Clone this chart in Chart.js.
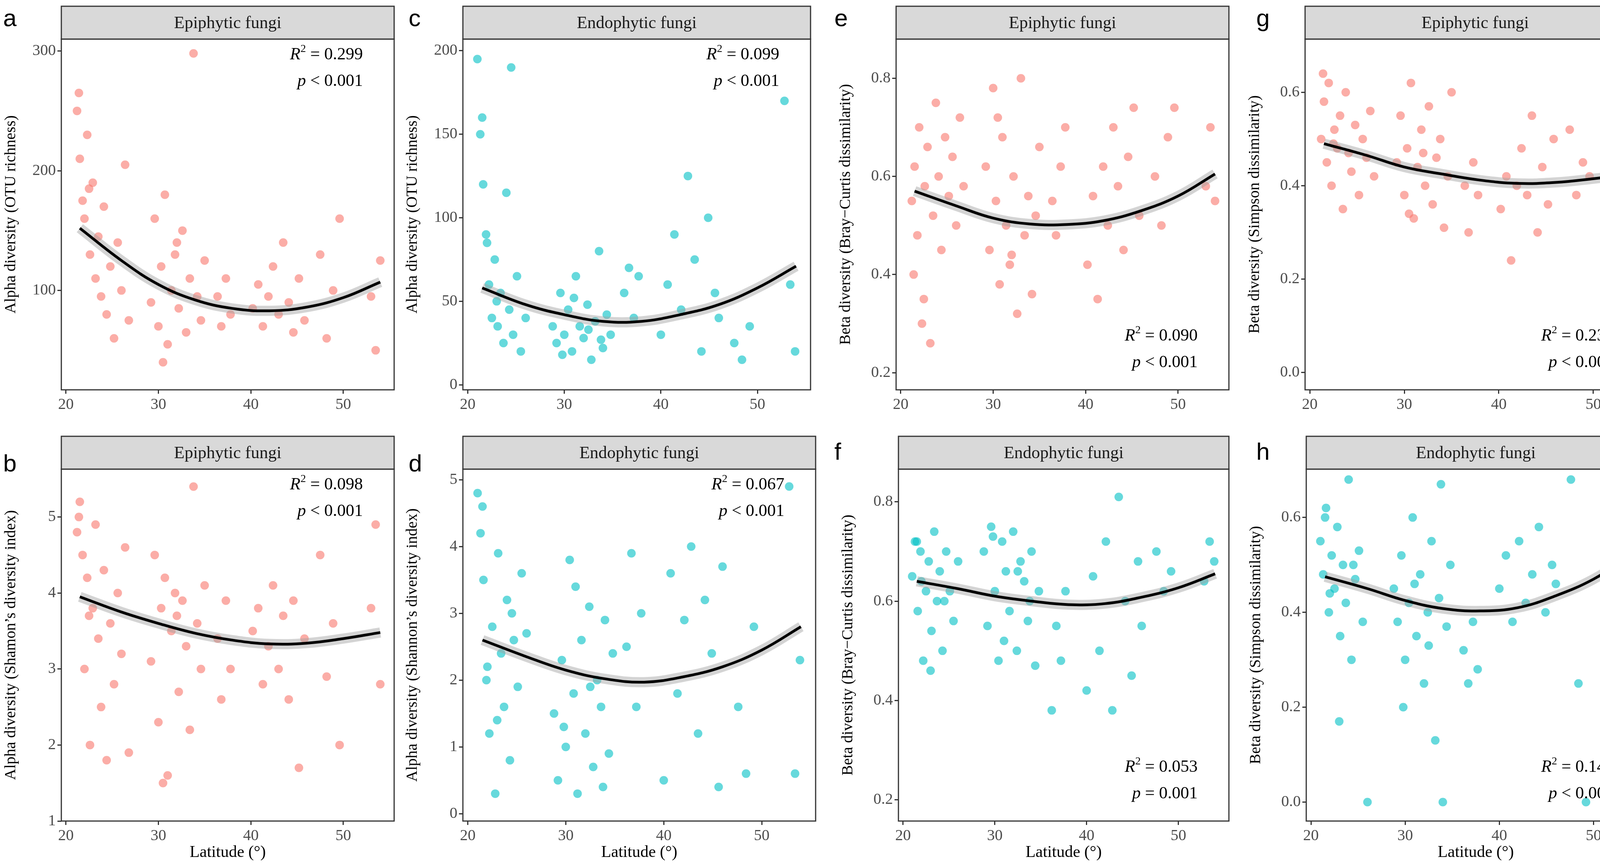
<!DOCTYPE html>
<html><head><meta charset="utf-8">
<script src="https://cdn.jsdelivr.net/npm/chart.js@4/dist/chart.umd.min.js"></script>
<style>
html,body{margin:0;padding:0;background:#fff;width:4252px;height:2212px;overflow:hidden;position:relative}
canvas{position:absolute;display:block}
.lt{position:absolute;font-family:"Liberation Sans",Arial,sans-serif;font-size:62px;color:#000}
</style></head><body>
<div class="lt" style="left:8px;top:10px">a</div>
<div class="lt" style="left:8px;top:1150px">b</div>
<div class="lt" style="left:1046px;top:10px">c</div>
<div class="lt" style="left:1046px;top:1150px">d</div>
<div class="lt" style="left:2136px;top:10px">e</div>
<div class="lt" style="left:2136px;top:1120px">f</div>
<div class="lt" style="left:3216px;top:10px">g</div>
<div class="lt" style="left:3216px;top:1120px">h</div>
<script>
// Epiphytic sample latitudes
const latEpi = [21.2,21.5,21.8,22.0,22.3,22.6,22.9,23.2,23.5,23.8,24.1,24.4,24.8,25.2,25.6,26.0,26.4,26.8,21.4,22.5,
29.2,29.6,30.0,30.3,30.7,31.0,31.4,31.8,32.2,32.6,33.0,33.4,33.8,34.2,34.6,35.0,30.5,32.0,
36.4,36.8,37.3,37.8,
40.2,40.8,41.3,41.9,42.4,43.0,43.5,44.1,44.6,45.2,45.8,
47.5,48.2,48.9,49.6,
53.0,53.5,54.0];
const valA = [250,210,175,160,230,130,190,110,145,95,170,80,120,60,140,100,205,75,265,185,
90,160,70,120,180,55,100,130,85,150,65,110,298,95,75,125,40,140,
95,70,110,80,
85,105,70,95,120,80,140,90,65,110,75,
130,60,100,160,
95,50,125];
const valB = [4.8,5.2,4.5,3.0,4.2,2.0,3.8,4.9,3.4,2.5,4.3,1.8,3.6,2.8,4.0,3.2,4.6,1.9,5.0,3.7,
3.1,4.5,2.3,3.8,4.2,1.6,3.5,4.0,2.7,3.9,3.3,2.2,5.4,3.6,3.0,4.1,1.5,3.7,
3.4,2.6,3.9,3.0,
3.5,3.8,2.8,3.3,4.1,3.0,3.7,2.6,3.9,1.7,3.4,
4.5,2.9,3.6,2.0,
3.8,4.9,2.8];
const valE = [0.55,0.62,0.48,0.70,0.30,0.58,0.66,0.26,0.52,0.75,0.60,0.45,0.68,0.56,0.64,0.50,0.72,0.58,0.40,0.35,
0.62,0.45,0.78,0.55,0.38,0.68,0.50,0.42,0.60,0.32,0.80,0.48,0.56,0.36,0.52,0.66,0.72,0.44,
0.55,0.48,0.62,0.70,
0.42,0.56,0.35,0.62,0.50,0.70,0.58,0.45,0.64,0.74,0.52,
0.60,0.50,0.68,0.74,
0.58,0.70,0.55];
const valG = [0.50,0.58,0.45,0.62,0.40,0.52,0.48,0.55,0.35,0.60,0.47,0.43,0.53,0.38,0.50,0.46,0.56,0.42,0.64,0.49,
0.45,0.55,0.38,0.48,0.62,0.33,0.44,0.52,0.40,0.57,0.36,0.46,0.50,0.31,0.42,0.60,0.34,0.47,
0.40,0.30,0.45,0.38,
0.35,0.42,0.24,0.40,0.48,0.38,0.55,0.30,0.44,0.36,0.50,
0.52,0.38,0.45,0.42,
0.61,0.35,0.28];
// Endophytic sample latitudes
const latEndo = [21.0,21.3,21.6,21.9,22.2,22.5,22.8,23.1,23.4,23.7,24.0,24.3,24.7,25.1,25.5,21.5,22.0,23.0,24.5,26.0,
28.8,29.2,29.6,30.0,30.4,30.8,31.2,31.6,32.0,32.4,32.8,33.2,33.6,34.0,34.4,34.8,29.8,31.0,32.5,33.8,
36.2,36.7,37.2,37.7,
40.0,40.7,41.4,42.1,42.8,43.5,44.2,44.9,45.6,46.0,
47.6,48.4,49.2,
52.8,53.4,53.9];
const valC = [195,150,120,90,60,40,75,35,55,25,115,45,30,65,20,160,85,50,190,40,
35,25,55,30,45,20,65,35,28,48,15,38,80,22,42,30,18,52,33,27,
55,70,40,65,
30,60,90,45,125,75,20,100,55,40,
25,15,35,
170,60,20];
const valD = [4.8,4.2,3.5,2.0,1.2,2.8,0.3,3.9,2.4,1.6,3.2,0.8,2.6,1.9,3.6,4.6,2.2,1.4,3.0,2.7,
1.5,0.5,2.3,1.0,3.8,1.8,0.3,2.6,1.2,3.1,0.7,2.0,1.6,2.9,0.9,2.4,1.3,3.4,1.9,0.4,
2.5,3.9,1.6,3.0,
0.5,3.6,1.8,2.9,4.0,1.2,3.2,2.4,0.4,3.7,
1.6,0.6,2.8,
4.9,0.6,2.3];
const valF = [0.65,0.72,0.58,0.70,0.48,0.62,0.68,0.54,0.74,0.60,0.66,0.50,0.70,0.62,0.56,0.72,0.64,0.46,0.60,0.68,
0.70,0.55,0.75,0.62,0.48,0.72,0.66,0.58,0.74,0.50,0.68,0.64,0.56,0.70,0.47,0.62,0.73,0.52,0.66,0.60,
0.38,0.55,0.48,0.62,
0.42,0.65,0.50,0.72,0.38,0.81,0.60,0.45,0.68,0.55,
0.70,0.62,0.66,
0.64,0.72,0.68];
const valH = [0.55,0.48,0.62,0.40,0.52,0.45,0.58,0.35,0.50,0.42,0.68,0.30,0.47,0.53,0.38,0.60,0.44,0.17,0.50,0.00,
0.45,0.38,0.52,0.30,0.42,0.60,0.35,0.48,0.25,0.40,0.55,0.13,0.43,0.00,0.37,0.50,0.20,0.46,0.33,0.67,
0.32,0.25,0.38,0.28,
0.45,0.52,0.38,0.55,0.42,0.48,0.58,0.40,0.50,0.46,
0.68,0.25,0.00,
0.55,0.60,0.50];
// Fitted curves read at these latitudes
const fitLat = [21.5,26,30,34,38,42,46,50,54];
const fitA = [152,125,105,92,85,83,86,94,107];
const fitB = [3.95,3.75,3.6,3.47,3.38,3.33,3.34,3.4,3.48];
const fitC = [58,48,42,38,38,42,48,58,71];
const fitD = [2.6,2.35,2.15,2.02,1.97,2.05,2.2,2.45,2.8];
const fitE = [0.57,0.54,0.515,0.503,0.502,0.51,0.53,0.56,0.605];
const fitF = [0.64,0.625,0.61,0.6,0.593,0.595,0.608,0.627,0.655];
const fitG = [0.49,0.465,0.44,0.425,0.412,0.405,0.407,0.415,0.425];
const fitH = [0.475,0.45,0.425,0.408,0.403,0.41,0.435,0.47,0.52];

const RED='rgba(248,118,109,0.6)', TEAL='rgba(0,191,196,0.6)';
const SERIF='"Liberation Serif","Times New Roman",serif';

const panels = [
 {lat:latEpi,val:valA,fit:fitA,col:RED,strip:'Epiphytic fungi',yt:'Alpha diversity (OTU richness)',ymin:17,ymax:310,step:100,r2:'0.299',p:'< 0.001',top:true,pl:157,pr:1009,row:0,xt:false},
 {lat:latEndo,val:valC,fit:fitC,col:TEAL,strip:'Endophytic fungi',yt:'Alpha diversity (OTU richness)',ymin:-3,ymax:207,step:50,r2:'0.099',p:'< 0.001',top:true,pl:1185,pr:2075,row:0,xt:false},
 {lat:latEpi,val:valE,fit:fitE,col:RED,strip:'Epiphytic fungi',yt:'Beta diversity (Bray−Curtis dissimilarity)',ymin:0.165,ymax:0.88,step:0.2,r2:'0.090',p:'< 0.001',top:false,pl:2294,pr:3146,row:0,xt:false},
 {lat:latEpi,val:valG,fit:fitG,col:RED,strip:'Epiphytic fungi',yt:'Beta diversity (Simpson dissimilarity)',ymin:-0.037,ymax:0.714,step:0.2,r2:'0.234',p:'< 0.001',top:false,pl:3341,pr:4212,row:0,xt:false},
 {lat:latEpi,val:valB,fit:fitB,col:RED,strip:'Epiphytic fungi',yt:'Alpha diversity (Shamon’s diversity index)',ymin:1.0,ymax:5.63,step:1,r2:'0.098',p:'< 0.001',top:true,pl:157,pr:1009,row:1,xt:true},
 {lat:latEndo,val:valD,fit:fitD,col:TEAL,strip:'Endophytic fungi',yt:'Alpha diversity (Shannon’s diversity index)',ymin:-0.11,ymax:5.16,step:1,r2:'0.067',p:'< 0.001',top:true,pl:1185,pr:2088,row:1,xt:true},
 {lat:latEndo,val:valF,fit:fitF,col:TEAL,strip:'Endophytic fungi',yt:'Beta diversity (Bray−Curtis dissimilarity)',ymin:0.157,ymax:0.866,step:0.2,r2:'0.053',p:'= 0.001',top:false,pl:2300,pr:3146,row:1,xt:true},
 {lat:latEndo,val:valH,fit:fitH,col:TEAL,strip:'Endophytic fungi',yt:'Beta diversity (Simpson dissimilarity)',ymin:-0.04,ymax:0.702,step:0.2,r2:'0.146',p:'< 0.001',top:false,pl:3344,pr:4212,row:1,xt:true}
];

const deco = {
 id:'deco',
 afterDraw(ch){
  const c=ch.ctx, a=ch.chartArea, P=ch.options.plugins.deco;
  c.save();
  c.strokeStyle='#333'; c.lineWidth=3;
  c.strokeRect(a.left,a.top,a.right-a.left,a.bottom-a.top);
  const sh=84;
  c.fillStyle='#D9D9D9'; c.fillRect(a.left,a.top-sh,a.right-a.left,sh);
  c.strokeRect(a.left,a.top-sh,a.right-a.left,sh);
  c.fillStyle='#1a1a1a'; c.font='44px '+SERIF; c.textAlign='center'; c.textBaseline='middle';
  c.fillText(P.strip,(a.left+a.right)/2,a.top-sh/2+2);
  const rx=a.right-80;
  const y1 = P.top ? a.top+40 : a.bottom-138;
  const y2 = y1+68;
  c.textBaseline='middle'; c.textAlign='left'; c.fillStyle='#000';
  const nf='44px '+SERIF, itf='italic 44px '+SERIF, sf='28px '+SERIF;
  c.font=nf; const t1=' = '+P.r2; const w1=c.measureText(t1).width;
  c.font=itf; const wR=c.measureText('R').width;
  c.font=sf; const w2=c.measureText('2').width;
  let x=rx-(wR+w2+w1);
  c.font=itf; c.fillText('R',x,y1); x+=wR;
  c.font=sf; c.fillText('2',x,y1-14); x+=w2;
  c.font=nf; c.fillText(t1,x,y1);
  const t2=' '+P.p; const wt2=c.measureText(t2).width;
  c.font=itf; const wp=c.measureText('p').width;
  x=rx-(wp+wt2);
  c.fillText('p',x,y2); x+=wp;
  c.font=nf; c.fillText(t2,x,y2);
  c.restore();
 }
};

panels.forEach(P=>{
 const left=P.pl-157, width=(P.pr-P.pl)+157+40;
 const top=P.row*1106, height=1106;
 const padTop = P.row===0?100:95, plotH = P.row===0?898:901;
 const cv=document.createElement('canvas');
 cv.width=width; cv.height=height;
 cv.style.left=left+'px'; cv.style.top=top+'px';
 cv.style.width=width+'px'; cv.style.height=height+'px';
 document.body.appendChild(cv);
 const pts=P.lat.map((l,i)=>({x:l,y:P.val[i]}));
 const fit=fitLat.map((l,i)=>({x:l,y:P.fit[i]}));
 new Chart(cv,{
  type:'scatter',
  data:{datasets:[
   {data:pts,backgroundColor:P.col,borderWidth:0,pointRadius:11,order:3},
   {type:'line',data:fit,borderColor:'rgba(160,160,160,0.45)',borderWidth:26,pointRadius:0,tension:0.4,order:2},
   {type:'line',data:fit,borderColor:'#000',borderWidth:7,pointRadius:0,tension:0.4,order:1}
  ]},
  options:{
   responsive:false,maintainAspectRatio:false,devicePixelRatio:1,animation:false,
   layout:{padding:{top:padTop,right:40,left:0,bottom:0}},
   plugins:{legend:{display:false},tooltip:{enabled:false},
     deco:{strip:P.strip,r2:P.r2,p:P.p,top:P.top}},
   scales:{
    x:{type:'linear',min:19.5,max:55.5,
      afterBuildTicks:s=>{s.ticks=[20,30,40,50].map(v=>({value:v}));},
      afterFit:s=>{s.height=height-padTop-plotH;},
      grid:{display:true,drawOnChartArea:false,tickLength:10,color:'#333',lineWidth:3},
      border:{display:false},
      ticks:{color:'#4d4d4d',font:{family:SERIF,size:40},padding:4},
      title:{display:P.xt,text:'Latitude (°)',color:'#000',font:{family:SERIF,size:42},padding:{top:6}}},
    y:{type:'linear',min:P.ymin,max:P.ymax,
      afterBuildTicks:s=>{const t=[];for(let v=Math.ceil(P.ymin/P.step-1e-9)*P.step;v<=P.ymax+1e-9;v+=P.step)t.push({value:+v.toFixed(3)});s.ticks=t;},
      afterFit:s=>{s.width=157;},
      grid:{display:true,drawOnChartArea:false,tickLength:10,color:'#333',lineWidth:3},
      border:{display:false},
      ticks:{color:'#4d4d4d',font:{family:SERIF,size:40},padding:4,
        callback:v=>P.step<1?(+v).toFixed(1):String(Math.round(v))},
      title:{display:true,text:P.yt,color:'#000',font:{family:SERIF,size:40},padding:{bottom:4}}}
   }
  },
  plugins:[deco]
 });
});
</script></body></html>
